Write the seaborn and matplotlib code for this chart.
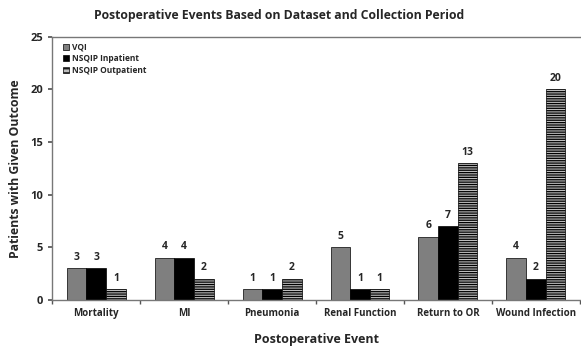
import pandas as pd
import numpy as np
import matplotlib
matplotlib.use("Agg")
import matplotlib.pyplot as plt
import seaborn as sns

events = ["Mortality", "MI", "Pneumonia", "Renal Function", "Return to OR", "Wound Infection"]
datasets = ["VQI", "NSQIP Inpatient", "NSQIP Outpatient"]
vqi = [3, 4, 1, 5, 6, 4]
nsqip_inpatient = [3, 4, 1, 1, 7, 2]
nsqip_outpatient = [1, 2, 2, 1, 13, 20]

df = pd.DataFrame({
    "event": events * 3,
    "dataset": [d for d in datasets for _ in events],
    "count": vqi + nsqip_inpatient + nsqip_outpatient,
})

sns.set_theme(style="white")
plt.rcParams["font.family"] = ["Open Sans", "DejaVu Sans"]
plt.rcParams["hatch.linewidth"] = 0.9

fig, ax = plt.subplots(figsize=(5.81, 3.5), dpi=100)
fig.subplots_adjust(left=0.09, right=0.998, top=0.895, bottom=0.143)

colors = {"VQI": "#7f7f7f", "NSQIP Inpatient": "#000000", "NSQIP Outpatient": "#ffffff"}
sns.barplot(data=df, x="event", y="count", hue="dataset", order=events,
            hue_order=datasets, palette=colors, width=0.67, ax=ax,
            edgecolor="black", linewidth=0.5, saturation=1)

# striped outpatient bars
for bar in ax.containers[2]:
    bar.set_hatch("-------")
    bar.set_facecolor("#bdbdbd")

for cont in ax.containers:
    ax.bar_label(cont, labels=[str(int(v)) for v in cont.datavalues],
                 padding=4, fontsize=7.5, fontweight="bold")

ax.set_ylim(0, 25)
ax.set_yticks(range(0, 26, 5))
ax.set_xlim(-0.5, len(events) - 0.5)
ax.set_xticks(np.arange(-0.5, len(events), 1.0), minor=True)
ax.tick_params(axis="x", which="major", length=0, labelsize=7, pad=6)
ax.tick_params(axis="x", which="minor", length=3, direction="out", bottom=True, color="#555555")
ax.tick_params(axis="y", length=3, direction="out", left=True, labelsize=8, color="#555555")
for lbl in ax.get_xticklabels() + ax.get_yticklabels():
    lbl.set_fontweight("bold")

for side in ["left", "bottom", "top"]:
    ax.spines[side].set_color("#777777")
    ax.spines[side].set_linewidth(1.0)
ax.spines["right"].set_visible(False)

# title is centred on the figure, not the axes
fig.text(0.48, 0.955, "Postoperative Events Based on Dataset and Collection Period",
         ha="center", va="center", fontsize=8.8, fontweight="bold")
ax.set_xlabel("Postoperative Event", fontsize=9, fontweight="bold", labelpad=10)
ax.set_ylabel("Patients with Given Outcome", fontsize=8.8, fontweight="bold", labelpad=6)

leg = ax.legend(loc="upper left", bbox_to_anchor=(0.01, 1.0), frameon=False,
                fontsize=6, handlelength=0.7, handleheight=0.7, handletextpad=0.3,
                labelspacing=0.3, borderaxespad=0.3)
for t in leg.get_texts():
    t.set_fontweight("bold")
leg.legend_handles[2].set_hatch("----")
leg.legend_handles[2].set_facecolor("#bdbdbd")

plt.savefig("out.png", dpi=100)
plt.close()
